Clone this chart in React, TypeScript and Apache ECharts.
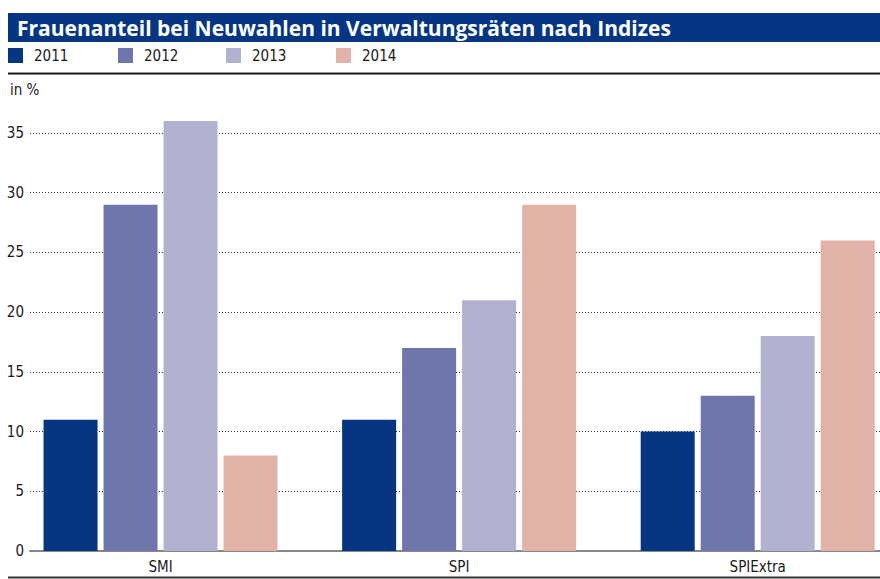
import React, { useEffect, useRef } from "react";
import * as echarts from "echarts";

const categories = ["SMI", "SPI", "SPIExtra"];
const seriesNames = ["2011", "2012", "2013", "2014"];
const values2011 = [11, 11, 10];
const values2012 = [29, 17, 13];
const values2013 = [36, 21, 18];
const values2014 = [8, 29, 26];
const seriesValues = [values2011, values2012, values2013, values2014];
const seriesColors = ["#063581", "#6E76AC", "#B3B1D0", "#E1B2A7"];
const yMin = 0;
const yMax = 35;
const yInterval = 5;
const titleText = "Frauenanteil bei Neuwahlen in Verwaltungsräten nach Indizes";
const unitText = "in %";

const condensed = "'Liberation Sans Narrow', 'DejaVu Sans Condensed', Lato, sans-serif";
const CANVAS_W = 907;
const VIEW_W = 880;

export default function App() {
  const ref = useRef<HTMLDivElement>(null);
  useEffect(() => {
    document.body.style.margin = "0";
    document.body.style.overflow = "hidden";
    document.documentElement.style.overflow = "hidden";
    if (!ref.current) return;
    const chart = echarts.init(ref.current, undefined, { renderer: "svg" });
    const legendLefts = [8, 118, 226, 336];
    chart.setOption({
      animation: false,
      backgroundColor: "#ffffff",
      textStyle: { fontFamily: condensed },
      legend: seriesNames.map((n, i) => ({
        data: [n],
        left: legendLefts[i],
        top: 48,
        padding: 0,
        itemWidth: 15,
        itemHeight: 15,
        icon: "rect",
        selectedMode: false,
        textStyle: { fontSize: 15, color: "#1a1a1a", fontFamily: condensed, padding: [0, 0, 0, 6] },
      })),
      grid: [
        { left: 11.25, top: 133, right: 0, height: 418 },
        { left: 30, top: 133, right: CANVAS_W - VIEW_W, height: 418 },
      ],
      xAxis: [
        {
          type: "category",
          gridIndex: 0,
          data: categories,
          axisLine: { show: false },
          axisTick: { show: false },
          axisLabel: { fontSize: 15, color: "#1a1a1a", margin: 8, fontFamily: condensed },
        },
        {
          type: "value",
          gridIndex: 1,
          min: 0,
          max: 1,
          axisLine: { show: true, onZero: false, lineStyle: { color: "#888888", width: 2 } },
          axisTick: { show: false },
          axisLabel: { show: false },
          splitLine: { show: false },
        },
      ],
      yAxis: [
        { type: "value", gridIndex: 0, min: yMin, max: yMax, show: false, splitLine: { show: false } },
        {
          type: "value",
          gridIndex: 1,
          min: yMin,
          max: yMax,
          interval: yInterval,
          axisLine: { show: false },
          axisTick: { show: false },
          axisLabel: { fontSize: 15, color: "#1a1a1a", margin: 6, fontFamily: condensed },
          splitLine: { show: true, lineStyle: { color: "#333333", type: [1, 2], width: 1 } },
        },
      ],
      series: seriesNames.map((n, i) => ({
        name: n,
        type: "bar",
        xAxisIndex: 0,
        yAxisIndex: 0,
        data: seriesValues[i],
        barWidth: 54,
        barGap: "11.1%",
        clip: false,
        itemStyle: { color: seriesColors[i] },
        z: 3,
      })),
      graphic: [
        { type: "rect", shape: { x: 8, y: 13, width: VIEW_W - 8, height: 29 }, style: { fill: "#063683" } },
        {
          type: "text",
          x: 17,
          y: 28,
          style: {
            text: titleText,
            fill: "#ffffff",
            font: "bold 21px 'Open Sans', 'Noto Sans', sans-serif",
            textVerticalAlign: "middle",
          },
        },
        { type: "rect", shape: { x: 8, y: 72, width: VIEW_W - 8, height: 1 }, style: { fill: "#999999" } },
        { type: "rect", shape: { x: 8, y: 73, width: VIEW_W - 8, height: 1.5 }, style: { fill: "#111111" } },
        {
          type: "text",
          x: 10,
          y: 90,
          style: { text: unitText, fill: "#1a1a1a", font: "15px " + condensed, textVerticalAlign: "middle" },
        },
        { type: "rect", shape: { x: 8, y: 576.5, width: VIEW_W - 8, height: 2 }, style: { fill: "#333333" } },
      ],
    });
    return () => chart.dispose();
  }, []);
  return <div ref={ref} style={{ width: CANVAS_W, height: 579 }} />;
}
